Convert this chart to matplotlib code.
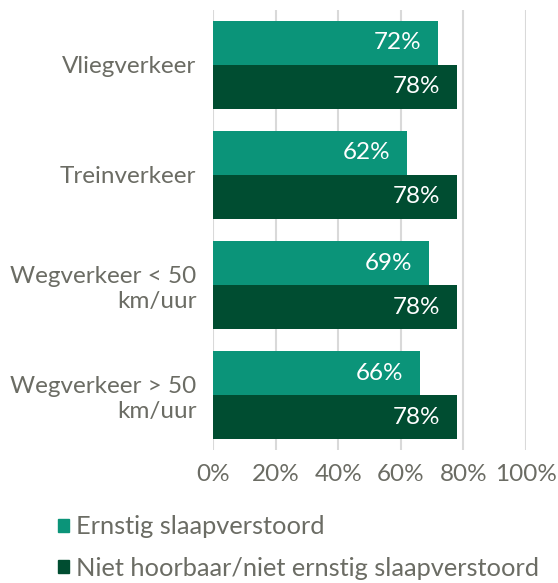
import numpy as np
import matplotlib
matplotlib.use('Agg')
import matplotlib.pyplot as plt
from matplotlib.patches import Patch

plt.rcParams['font.family'] = ['Lato', 'DejaVu Sans']

categories = ['Vliegverkeer', 'Treinverkeer', 'Wegverkeer < 50\nkm/uur', 'Wegverkeer > 50\nkm/uur']
ernstig = [72, 62, 69, 66]
niet_ernstig = [78, 78, 78, 78]
series_names = ['Ernstig slaapverstoord', 'Niet hoorbaar/niet ernstig slaapverstoord']
xticks = [0, 20, 40, 60, 80, 100]

light = '#0b9479'
dark = '#004d31'
grey = '#6b6c64'
fs = 17.5

fig = plt.figure(figsize=(5.58, 5.83), dpi=100)
ax = fig.add_axes([0.3817, 0.228, 0.561, 0.755])

y = np.arange(len(categories))
h = 0.4
b1 = ax.barh(y - h / 2, ernstig, height=h, color=light)
b2 = ax.barh(y + h / 2, niet_ernstig, height=h, color=dark)

for bars, vals in ((b1, ernstig), (b2, niet_ernstig)):
    for b, v in zip(bars, vals):
        ax.text(v - 5.3, b.get_y() + b.get_height() / 2, '%d%%' % v,
                ha='right', va='center', color='white', fontsize=fs)

ax.set_ylim(len(categories) - 0.5, -0.5)
ax.set_xlim(0, 100)
ax.set_yticks(y)
ax.set_yticklabels(categories, fontsize=fs, color=grey, linespacing=1.25)
ax.set_xticks(xticks)
ax.set_xticklabels(['%d%%' % t for t in xticks], fontsize=fs, color=grey)
ax.tick_params(length=0)
ax.tick_params(axis='x', pad=10)
ax.tick_params(axis='y', pad=12)
for s in ax.spines.values():
    s.set_visible(False)
ax.set_axisbelow(True)
ax.grid(axis='x', color='#d9d9d9', linewidth=1.5)
ax.grid(axis='y', visible=False)

handles = [Patch(color=light), Patch(color=dark)]
fig.legend(handles, series_names, loc='upper left', bbox_to_anchor=(0.104, 0.116),
           frameon=False, fontsize=18.3, labelcolor=grey, handlelength=0.43,
           handleheight=0.43, handletextpad=0.27, labelspacing=0.72,
           borderaxespad=0, borderpad=0)

fig.savefig('out.png', dpi=100)
